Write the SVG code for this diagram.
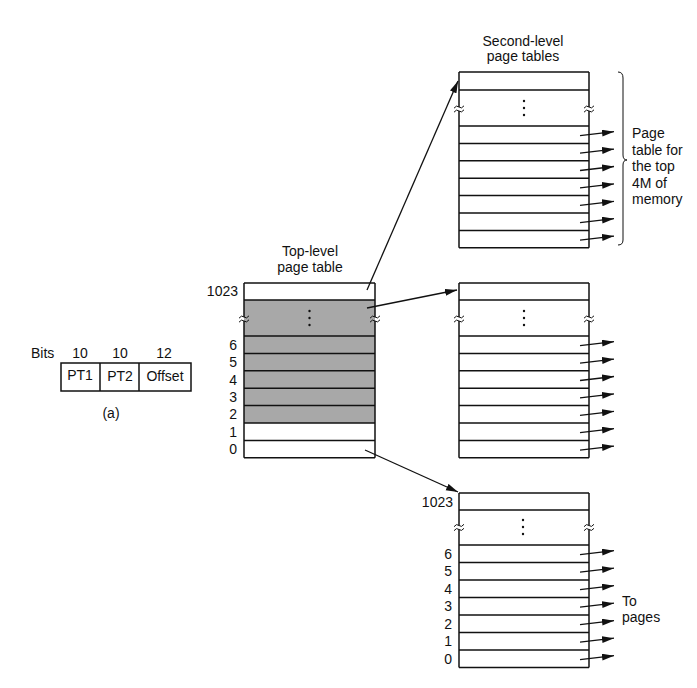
<svg xmlns="http://www.w3.org/2000/svg" xmlns:xlink="http://www.w3.org/1999/xlink" width="697" height="688" viewBox="0 0 697 688">
  <style>
    text { font-family: "Liberation Sans", Arial, sans-serif; font-size: 14px; fill: #111; }
    .mid { text-anchor: middle; }
    .end { text-anchor: end; }
    .ln { stroke: #111; stroke-width: 1.5; fill: none; }
    .wv { stroke: #111; stroke-width: 1; fill: none; }
    .thin { stroke: #111; stroke-width: 1; fill: none; }
    .arr { stroke: #111; stroke-width: 1.3; fill: none; marker-end: url(#ah); }
    .dot { fill: #111; }
    .shade { fill: #a8a8a8; }
  </style>
  <defs>
    <marker id="ah" markerUnits="userSpaceOnUse" markerWidth="13" markerHeight="8" refX="12" refY="3.5" orient="auto">
      <path d="M0,0 L12,3.5 L0,7 z" fill="#111"/>
    </marker>
    <path id="wave" d="M-5,1.2 Q-2.5,-2.4 0,0 T5,-1.2"/>
    <!-- break mark: two small waves across a vertical edge -->
    <g id="brk" class="wv">
      <use xlink:href="#wave" y="-2"/>
      <use xlink:href="#wave" y="2"/>
    </g>
    <g id="dots">
      <circle class="dot" cx="0" cy="-7" r="1.2"/>
      <circle class="dot" cx="0" cy="0" r="1.2"/>
      <circle class="dot" cx="0" cy="7" r="1.2"/>
    </g>
  </defs>
  <rect width="697" height="688" fill="#fff"/>

  <!-- virtual address split into fields -->
  <g id="address-format">
    <text x="31" y="358">Bits</text>
    <text class="mid" x="80" y="358">10</text>
    <text class="mid" x="120" y="358">10</text>
    <text class="mid" x="164" y="358">12</text>
    <rect class="ln" x="61" y="363" width="130" height="28"/>
    <line class="ln" x1="100" y1="363" x2="100" y2="391"/>
    <line class="ln" x1="139" y1="363" x2="139" y2="391"/>
    <text class="mid" x="80" y="380">PT1</text>
    <text class="mid" x="120" y="381">PT2</text>
    <text class="mid" x="165" y="381">Offset</text>
    <text class="mid" x="111" y="418">(a)</text>
  </g>

  <!-- top-level page table -->
  <g id="top-level-table">
    <text class="mid" x="310" y="256">Top-level</text>
    <text class="mid" x="310" y="272">page table</text>
    <rect class="shade" x="244" y="300" width="131" height="123"/>
    <g class="ln">
      <line x1="244" y1="283" x2="375" y2="283"/>
      <line x1="244" y1="300" x2="375" y2="300"/>
      <line x1="244" y1="336" x2="375" y2="336"/>
      <line x1="244" y1="353.4" x2="375" y2="353.4"/>
      <line x1="244" y1="370.8" x2="375" y2="370.8"/>
      <line x1="244" y1="388.2" x2="375" y2="388.2"/>
      <line x1="244" y1="405.6" x2="375" y2="405.6"/>
      <line x1="244" y1="423" x2="375" y2="423"/>
      <line x1="244" y1="440.4" x2="375" y2="440.4"/>
      <line x1="244" y1="457.8" x2="375" y2="457.8"/>
      <line x1="244" y1="283" x2="244" y2="317"/>
      <line x1="244" y1="321" x2="244" y2="457.8"/>
      <line x1="375" y1="283" x2="375" y2="317"/>
      <line x1="375" y1="321" x2="375" y2="457.8"/>
    </g>
    <use xlink:href="#brk" x="244" y="319"/>
    <use xlink:href="#brk" x="375" y="319"/>
    <use xlink:href="#dots" x="309.5" y="318"/>
    <text class="end" x="238" y="296">1023</text>
    <text class="end" x="237" y="349.7">6</text>
    <text class="end" x="237" y="367.1">5</text>
    <text class="end" x="237" y="384.5">4</text>
    <text class="end" x="237" y="401.9">3</text>
    <text class="end" x="237" y="419.3">2</text>
    <text class="end" x="237" y="436.7">1</text>
    <text class="end" x="237" y="454.1">0</text>
  </g>

  <!-- second-level table for the top 4M -->
  <g id="second-level-top">
    <text class="mid" x="523" y="46">Second-level</text>
    <text class="mid" x="523" y="61">page tables</text>
    <g class="ln">
      <line x1="459" y1="72" x2="589" y2="72"/>
      <line x1="459" y1="90" x2="589" y2="90"/>
      <line x1="459" y1="126" x2="589" y2="126"/>
      <line x1="459" y1="143.4" x2="589" y2="143.4"/>
      <line x1="459" y1="160.8" x2="589" y2="160.8"/>
      <line x1="459" y1="178.2" x2="589" y2="178.2"/>
      <line x1="459" y1="195.6" x2="589" y2="195.6"/>
      <line x1="459" y1="213" x2="589" y2="213"/>
      <line x1="459" y1="230.4" x2="589" y2="230.4"/>
      <line x1="459" y1="247.8" x2="589" y2="247.8"/>
      <line x1="459" y1="72" x2="459" y2="107"/>
      <line x1="459" y1="111" x2="459" y2="247.8"/>
      <line x1="589" y1="72" x2="589" y2="107"/>
      <line x1="589" y1="111" x2="589" y2="247.8"/>
    </g>
    <use xlink:href="#brk" x="459" y="109"/>
    <use xlink:href="#brk" x="589" y="109"/>
    <use xlink:href="#dots" x="524" y="108"/>
    <path class="thin" d="M618,72 Q623,72 623,78 L623,155 Q623,160 627,160 Q623,160 623,165 L623,240 Q623,245 618,245"/>
    <text x="632" y="138">Page</text>
    <text x="632" y="154.5">table for</text>
    <text x="632" y="171">the top</text>
    <text x="632" y="187.5">4M of</text>
    <text x="632" y="204">memory</text>
  </g>

  <!-- second-level table in the middle -->
  <g id="second-level-mid">
    <g class="ln">
      <line x1="459" y1="283" x2="589" y2="283"/>
      <line x1="459" y1="300" x2="589" y2="300"/>
      <line x1="459" y1="336" x2="589" y2="336"/>
      <line x1="459" y1="353.4" x2="589" y2="353.4"/>
      <line x1="459" y1="370.8" x2="589" y2="370.8"/>
      <line x1="459" y1="388.2" x2="589" y2="388.2"/>
      <line x1="459" y1="405.6" x2="589" y2="405.6"/>
      <line x1="459" y1="423" x2="589" y2="423"/>
      <line x1="459" y1="440.4" x2="589" y2="440.4"/>
      <line x1="459" y1="457.8" x2="589" y2="457.8"/>
      <line x1="459" y1="283" x2="459" y2="317"/>
      <line x1="459" y1="321" x2="459" y2="457.8"/>
      <line x1="589" y1="283" x2="589" y2="317"/>
      <line x1="589" y1="321" x2="589" y2="457.8"/>
    </g>
    <use xlink:href="#brk" x="459" y="319"/>
    <use xlink:href="#brk" x="589" y="319"/>
    <use xlink:href="#dots" x="524" y="318"/>
  </g>

  <!-- second-level table for the bottom 4M -->
  <g id="second-level-bottom">
    <g class="ln">
      <line x1="459" y1="493" x2="589" y2="493"/>
      <line x1="459" y1="510" x2="589" y2="510"/>
      <line x1="459" y1="545" x2="589" y2="545"/>
      <line x1="459" y1="562.5" x2="589" y2="562.5"/>
      <line x1="459" y1="580" x2="589" y2="580"/>
      <line x1="459" y1="597.5" x2="589" y2="597.5"/>
      <line x1="459" y1="615" x2="589" y2="615"/>
      <line x1="459" y1="632.5" x2="589" y2="632.5"/>
      <line x1="459" y1="650" x2="589" y2="650"/>
      <line x1="459" y1="667.5" x2="589" y2="667.5"/>
      <line x1="459" y1="493" x2="459" y2="525.5"/>
      <line x1="459" y1="529.5" x2="459" y2="667.5"/>
      <line x1="589" y1="493" x2="589" y2="525.5"/>
      <line x1="589" y1="529.5" x2="589" y2="667.5"/>
    </g>
    <use xlink:href="#brk" x="459" y="527.5"/>
    <use xlink:href="#brk" x="589" y="527.5"/>
    <use xlink:href="#dots" x="523" y="527"/>
    <text class="end" x="453" y="506.5">1023</text>
    <text class="end" x="452" y="558.8">6</text>
    <text class="end" x="452" y="576.3">5</text>
    <text class="end" x="452" y="593.8">4</text>
    <text class="end" x="452" y="611.3">3</text>
    <text class="end" x="452" y="628.8">2</text>
    <text class="end" x="452" y="646.3">1</text>
    <text class="end" x="452" y="663.8">0</text>
    <text x="622" y="606">To</text>
    <text x="622" y="622">pages</text>
  </g>

  <!-- pointers between tables and out to pages -->
  <g id="connectors">
    <line class="arr" x1="367" y1="290" x2="458" y2="81"/>
    <line class="arr" x1="367" y1="308" x2="457" y2="290"/>
    <line class="arr" x1="365" y1="450" x2="458" y2="492"/>

    <line class="arr" x1="580" y1="135.7" x2="614" y2="131.7"/>
    <line class="arr" x1="580" y1="153.1" x2="614" y2="149.1"/>
    <line class="arr" x1="580" y1="170.5" x2="614" y2="166.5"/>
    <line class="arr" x1="580" y1="187.9" x2="614" y2="183.9"/>
    <line class="arr" x1="580" y1="205.3" x2="614" y2="201.3"/>
    <line class="arr" x1="580" y1="222.7" x2="614" y2="218.7"/>
    <line class="arr" x1="580" y1="240.1" x2="614" y2="236.1"/>

    <line class="arr" x1="580" y1="345.7" x2="614" y2="341.7"/>
    <line class="arr" x1="580" y1="363.1" x2="614" y2="359.1"/>
    <line class="arr" x1="580" y1="380.5" x2="614" y2="376.5"/>
    <line class="arr" x1="580" y1="397.9" x2="614" y2="393.9"/>
    <line class="arr" x1="580" y1="415.3" x2="614" y2="411.3"/>
    <line class="arr" x1="580" y1="432.7" x2="614" y2="428.7"/>
    <line class="arr" x1="580" y1="450.1" x2="614" y2="446.1"/>

    <line class="arr" x1="580" y1="554.7" x2="614" y2="550.7"/>
    <line class="arr" x1="580" y1="572.2" x2="614" y2="568.2"/>
    <line class="arr" x1="580" y1="589.7" x2="614" y2="585.7"/>
    <line class="arr" x1="580" y1="607.2" x2="614" y2="603.2"/>
    <line class="arr" x1="580" y1="624.7" x2="614" y2="620.7"/>
    <line class="arr" x1="580" y1="642.2" x2="614" y2="638.2"/>
    <line class="arr" x1="580" y1="659.7" x2="614" y2="655.7"/>
  </g>
</svg>
